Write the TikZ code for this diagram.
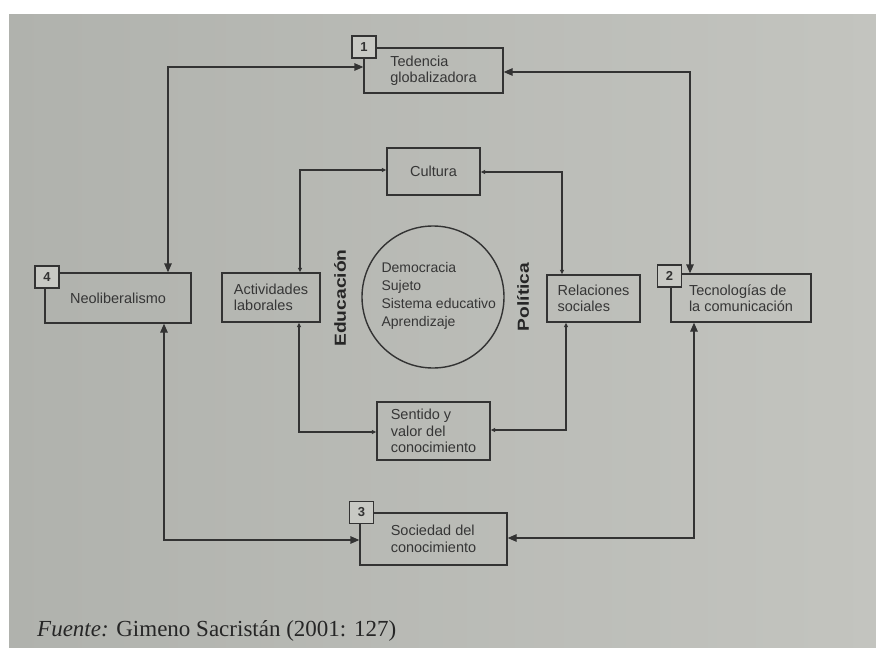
\documentclass[tikz,border=0pt]{standalone}
\usepackage{fontspec}
\usepackage{graphicx}
\setmainfont{Liberation Sans}
\newfontfamily\fuentefont{Liberation Serif}
\usetikzlibrary{arrows.meta}
\definecolor{bgc}{HTML}{C8C9C4}
\definecolor{bgl}{HTML}{B0B2AD}
\definecolor{bgr}{HTML}{C3C4BF}
\definecolor{linec}{HTML}{333333}
\definecolor{textc}{HTML}{363636}
\begin{document}
\begin{tikzpicture}[x=1pt,y=-1pt,
  box/.style={draw=linec, line width=1.3pt, inner sep=0pt, align=left,
    font=\fontsize{14.5}{16.5}\selectfont, text=textc},
  numbox/.style={draw=linec, line width=1.6pt, fill=bgc, minimum width=24pt,
    minimum height=22pt, inner sep=0pt, font=\fontsize{13}{13}\selectfont\bfseries, text=linec},
  conn/.style={draw=linec, line width=1.3pt},
  bigarr/.style={{Triangle[length=9pt,width=7.5pt]}-{Triangle[length=9pt,width=7.5pt]}},
  smallarr/.style={{Triangle[length=4.5pt,width=4pt]}-{Triangle[length=4.5pt,width=4pt]}},
  vlabel/.style={rotate=90, font=\fontsize{16}{16}\selectfont\bfseries, text=black!85}
]
% background
\fill[white] (0,0) rectangle (876,648);
\shade[shading=axis, left color=bgl, middle color=bgc, right color=bgr, shading angle=90] (9,14) rectangle (876,648);
\useasboundingbox (0,0) rectangle (876,648);

% outer boxes
\node[box, minimum width=139pt, minimum height=45pt] (b1) at (433.5,70.5) {Tedencia\\globalizadora};
\node[box, minimum width=146pt, minimum height=50pt] (b4) at (118,298) {Neoliberalismo};
\node[box, minimum width=140pt, minimum height=48pt] (b2) at (741,298) {Tecnologías de\\la comunicación};
\node[box, minimum width=147pt, minimum height=52pt] (b3) at (433.5,539) {Sociedad del\\conocimiento};

% number boxes
\node[numbox] (n1) at (364,47) {1};
\node[numbox] (n4) at (47,277) {4};
\node[numbox] (n2) at (669.5,276) {2};
\node[numbox] (n3) at (361.5,512.5) {3};

% inner boxes
\node[box, minimum width=93pt, minimum height=47pt] (cul) at (433.5,171.5) {Cultura};
\node[box, minimum width=98pt, minimum height=49pt] (act) at (271,297.5) {Actividades\\laborales};
\node[box, minimum width=93pt, minimum height=47pt] (rel) at (593.5,298.5) {Relaciones\\sociales};
\node[box, minimum width=113pt, minimum height=58pt] (sen) at (433.5,431) {Sentido y\\valor del\\conocimiento};

% circle
\node[draw=linec, line width=1.4pt, circle, minimum size=142pt, inner sep=0pt] (circ) at (433,297) {};
\node[anchor=west, align=left, font=\fontsize{14}{18}\selectfont, text=textc] (ctext) at (378,296)
  {Democracia\\Sujeto\\Sistema educativo\\Aprendizaje};

% vertical labels
\node[vlabel] (edu) at (340,298) {\scalebox{1.2}[1]{Educación}};
\node[vlabel] (pol) at (523,297) {\scalebox{1.2}[1]{Política}};

% outer connectors
\coordinate (L) at (168,67);
\coordinate (R) at (690,72);
\coordinate (LB) at (164,540);
\coordinate (RB) at (694,538);
\draw[conn, bigarr] (b4.north -| L) |- (b1.west |- L);
\draw[conn, bigarr] (b2.north -| R) |- (b1.east |- R);
\draw[conn, bigarr] (b4.south -| LB) |- (b3.west |- LB);
\draw[conn, bigarr] (b2.south -| RB) |- (b3.east |- RB);

% inner connectors
\coordinate (IL) at (300,170);
\coordinate (IR) at (562,172);
\coordinate (ILB) at (299,432);
\coordinate (IRB) at (566,430);
\draw[conn, smallarr] (act.north -| IL) |- (cul.west |- IL);
\draw[conn, smallarr] (rel.north -| IR) |- (cul.east |- IR);
\draw[conn, smallarr] (act.south -| ILB) |- (sen.west |- ILB);
\draw[conn, smallarr] (rel.south -| IRB) |- (sen.east |- IRB);

% source
\node[anchor=base west, inner sep=0pt, font=\fuentefont\fontsize{23}{23}\selectfont, text=black!85] (src) at (37,636)
  {\textit{Fuente:} Gimeno Sacristán (2001: 127)};
\end{tikzpicture}
\end{document}
